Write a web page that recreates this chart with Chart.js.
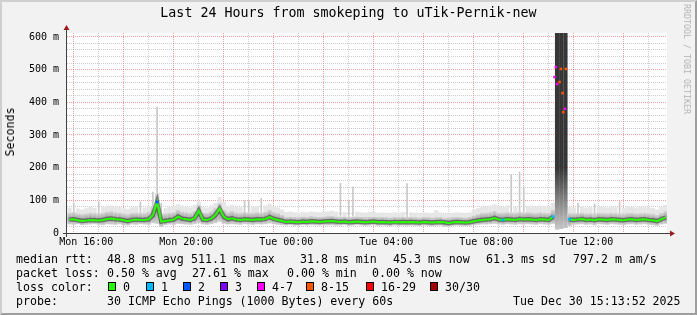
<!DOCTYPE html>
<html>
<head>
<meta charset="utf-8">
<script src="https://cdn.jsdelivr.net/npm/chart.js@4.4.1/dist/chart.umd.min.js"></script>
<style>
body { margin: 0; background: #fff; }
#wrap { position: relative; width: 697px; height: 315px; background: #f2f2f2; overflow: hidden;
        font-family: 'DejaVu Sans Mono', monospace; color: #000; }
#frame { position: absolute; left: 0; top: 0; width: 697px; height: 315px; box-sizing: border-box;
         border: 2px solid; border-color: #cfcfcf #9e9e9e #9e9e9e #cfcfcf; pointer-events: none; }
#chart { position: absolute; left: 0; top: 0; }
.t { position: absolute; white-space: pre; font-size: 11.6px; line-height: 14px; }
.box { position: absolute; width: 6px; height: 7px; border: 1px solid #000; top: 282px; }
#title { position: absolute; left: 0; top: 5px; width: 697px; text-align: center; font-size: 13.3px; line-height: 16px; }
#ylab { position: absolute; left: 10px; top: 132px; font-size: 11.6px; transform: translate(-50%, -50%) rotate(-90deg); white-space: nowrap; }
#credit { position: absolute; left: 687px; top: 59px; font-size: 8.3px; color: #b4b4b4; transform: translate(-50%, -50%) rotate(90deg); white-space: nowrap; }
</style>
</head>
<body>
<div id="wrap">
  <canvas id="chart" width="697" height="315"></canvas>
  <div id="title">Last 24 Hours from smokeping to uTik-Pernik-new</div>
  <div id="ylab">Seconds</div>
  <div id="credit">RRDTOOL / TOBI OETIKER</div>

  <div class="t" style="left:16px;top:252px">median rtt:</div>
  <div class="t" style="left:107px;top:252px">48.8 ms avg</div>
  <div class="t" style="left:191px;top:252px">511.1 ms max</div>
  <div class="t" style="left:300px;top:252px">31.8 ms min</div>
  <div class="t" style="left:393px;top:252px">45.3 ms now</div>
  <div class="t" style="left:486px;top:252px">61.3 ms sd</div>
  <div class="t" style="left:573px;top:252px">797.2 m am/s</div>

  <div class="t" style="left:16px;top:266px">packet loss:</div>
  <div class="t" style="left:107px;top:266px">0.50 % avg</div>
  <div class="t" style="left:192px;top:266px">27.61 % max</div>
  <div class="t" style="left:287px;top:266px">0.00 % min</div>
  <div class="t" style="left:372px;top:266px">0.00 % now</div>

  <div class="t" style="left:16px;top:280px">loss color:</div>
  <div id="lossLegend"></div>

  <div class="t" style="left:16px;top:294px">probe:</div>
  <div class="t" style="left:107px;top:294px">30 ICMP Echo Pings (1000 Bytes) every 60s</div>
  <div class="t" style="left:513px;top:294px">Tue Dec 30 15:13:52 2025</div>
  <div id="frame"></div>
</div>
<script>
// 10 minute slots, Mon 15:15 -> Tue 15:15 (values in ms)
const median = [
  41,42,39,37,38,40,39,38,40,43,44,42,41,39,36,40,41,40,40,42,
  55,95,35,37,39,41,50,44,42,40,45,68,41,40,44,55,74,50,42,45,
  41,40,42,41,40,42,41,43,49,43,40,37,34,35,34,33,35,34,36,35,
  34,35,36,37,35,34,35,33,34,35,34,33,34,35,33,34,33,32,34,33,
  34,33,34,33,32,34,33,32,33,34,33,30,33,34,33,32,33,36,38,40,
  41,42,46,41,40,42,41,40,43,41,42,41,40,42,41,40,50,null,null,null,
  42,40,41,43,40,41,39,42,41,40,42,41,40,39,41,42,40,41,42,40,39,36,42,47
];
const loss = [
  0,0,0,0,0,0,0,0,0,0,0,0,0,0,0,0,0,0,0,0,
  0,2,0,0,0,0,0,0,0,0,0,0,0,0,0,0,0,0,0,0,
  0,0,0,0,0,0,0,0,0,0,0,0,0,0,0,0,0,0,0,0,
  0,0,0,0,0,0,0,0,0,0,0,0,0,0,0,0,0,0,0,0,
  0,0,0,0,0,0,0,0,0,0,0,0,0,0,0,0,0,0,0,0,
  0,0,0,0,1,0,0,0,0,0,0,0,0,0,0,0,1,6,10,8,
  1,0,0,0,0,0,0,0,0,0,0,0,0,0,0,0,0,0,0,0,0,0,0,0
];
const smokeLo = [
  26,25,27,24,25,26,27,25,24,27,26,25,27,24,23,26,25,27,26,25,
  30,28,18,24,26,25,28,27,26,25,27,30,26,25,27,30,34,28,26,27,
  26,25,27,26,25,27,26,27,29,27,25,24,23,24,22,23,24,23,24,23,
  23,24,23,24,22,23,24,22,23,24,23,22,23,24,22,23,22,21,23,22,
  23,22,23,22,21,23,22,21,22,23,19,20,22,23,22,21,22,24,25,26,
  26,27,28,26,25,27,26,25,27,26,27,26,25,27,26,25,28,10,12,15,
  20,25,26,27,25,26,24,27,26,25,27,26,25,24,26,27,25,26,27,25,24,22,26,28
];
const smokeHi = [
  62,64,60,58,60,63,61,60,62,66,67,64,63,60,58,62,63,62,61,65,
  80,120,58,60,62,64,72,66,64,62,68,88,63,62,67,78,92,72,64,68,
  63,62,65,63,62,64,63,66,72,65,61,56,50,51,50,49,51,50,52,51,
  50,51,52,53,51,50,51,49,50,51,50,49,50,51,49,50,49,48,50,49,
  50,49,50,49,48,50,49,48,49,50,46,48,49,50,49,48,50,54,58,62,
  63,64,68,63,62,64,63,62,65,63,64,63,62,64,63,62,72,700,700,700,
  62,60,61,63,60,61,59,62,61,60,62,61,60,59,61,62,60,61,62,60,59,56,62,68
];
const smokePeak = [
  78,92,75,72,76,80,77,96,79,82,84,81,80,76,74,79,81,96,78,82,
  126,386,92,76,80,82,88,84,80,78,86,96,80,78,84,92,110,96,82,86,
  80,79,100,100,80,82,107,84,90,82,78,72,64,66,63,62,65,63,66,64,
  63,64,66,68,65,153,64,100,142,65,63,62,64,65,62,63,62,61,63,62,
  64,152,63,62,61,63,62,61,70,63,58,60,62,63,62,61,63,70,76,80,
  82,84,88,82,80,84,180,82,188,142,84,82,80,83,82,80,92,null,null,null,
  80,78,92,82,78,80,90,81,80,78,82,80,96,77,82,80,78,80,82,78,77,72,80,86
];
// outage detail (Tue morning)
const outTimes = ['10:44','10:47','10:50','10:56','10:59','11:03','11:05','11:09','11:11'];
const outMedian = [477, 508, 456, 462, 502, 428, 370, 380, 502];
const outLoss = [5, 6, 5, 9, 10, 9, 12, 6, 9];

const hourTicks = [16,17,18,19,20,21,22,23,24,25,26,27,28,29,30,31,32,33,34,35,36,37,38,39];
const msTicks = [0,20,40,60,80,100,120,140,160,180,200,220,240,260,280,300,320,340,360,380,400,420,440,460,480,500,520,540,560,580,600];
const lossNames = ['0','1','2','3','4-7','8-15','16-29','30/30'];
const lossColors = ['#26ff00','#00b8ff','#0059ff','#7e00ff','#ff00ff','#ff5500','#ff0000','#a10000'];

const GRID = 'rgba(143,143,143,0.46)';
const MGRID = 'rgba(222,48,48,0.46)';

function lossColor(l) {
  if (l <= 3) return lossColors[l];
  if (l <= 7) return lossColors[4];
  if (l <= 15) return lossColors[5];
  if (l <= 29) return lossColors[6];
  return lossColors[7];
}

// legend boxes
const boxLeft = [108,146,183,220,257,306,366,430];
const leg = document.getElementById('lossLegend');
lossNames.forEach((n, i) => {
  const b = document.createElement('div');
  b.className = 'box';
  b.style.left = boxLeft[i] + 'px';
  b.style.background = lossColors[i];
  leg.appendChild(b);
  const t = document.createElement('div');
  t.className = 't';
  t.style.left = (boxLeft[i] + 15) + 'px';
  t.style.top = '280px';
  t.textContent = n;
  leg.appendChild(t);
});

const slotX = median.map((_, i) => 15.25 + (i + 0.5) / 6);
const toHour = s => 24 + parseInt(s.slice(0, 2)) + parseInt(s.slice(3)) / 60;

function bandFill(ctx) {
  const i = ctx.dataIndex;
  const c = ctx.chart, y = c.scales.y;
  const plain = loss[i] < 4 ? '#b4b4b4' : '#444';
  if (!y) return plain;
  if (loss[i] < 4) {
    // lighter at the band edges, darker near the median
    const y0 = y.getPixelForValue(smokeLo[i]), y1 = y.getPixelForValue(smokeHi[i]);
    if (!isFinite(y0) || !isFinite(y1)) return plain;
    const g = c.ctx.createLinearGradient(0, y0, 0, y1);
    g.addColorStop(0, '#d4d4d4');
    g.addColorStop(0.45, '#9a9a9a');
    g.addColorStop(1, '#d8d8d8');
    return g;
  }
  const y0 = y.getPixelForValue(0), y1 = y.getPixelForValue(200);
  if (!isFinite(y0) || !isFinite(y1)) return plain;
  const g = c.ctx.createLinearGradient(0, y0, 0, y1);
  g.addColorStop(0, '#d0d0d0');
  g.addColorStop(1, '#363636');
  return g;
}

// faint haze just above the band, thin light spikes for the large outliers
const hazeData = [], spikeData = [];
slotX.forEach((t, i) => {
  if (smokePeak[i] == null) return;
  const d = { x: t, y: [smokeHi[i], smokePeak[i]] };
  (smokePeak[i] - smokeHi[i] >= 25 ? spikeData : hazeData).push(d);
});

const rrdFrame = {
  id: 'rrdFrame',
  beforeDraw(c) {
    const a = c.chartArea, x = c.ctx;
    x.save();
    x.fillStyle = '#fff';
    x.fillRect(a.left, a.top, a.right - a.left, a.bottom - a.top);
    x.restore();
  },
  afterDraw(c) {
    const a = c.chartArea, x = c.ctx;
    x.save();
    x.strokeStyle = '#404040';
    x.lineWidth = 1;
    x.beginPath();
    x.moveTo(a.left - 0.5, a.bottom + 4);
    x.lineTo(a.left - 0.5, a.top - 3);
    x.moveTo(a.left - 4, a.bottom + 0.5);
    x.lineTo(a.right + 4, a.bottom + 0.5);
    x.stroke();
    x.fillStyle = '#9a1c1c';
    x.beginPath();
    x.moveTo(a.left - 3.5, a.top - 3);
    x.lineTo(a.left + 2.5, a.top - 3);
    x.lineTo(a.left - 0.5, a.top - 8);
    x.closePath();
    x.fill();
    x.beginPath();
    x.moveTo(a.right + 3, a.bottom - 2.5);
    x.lineTo(a.right + 3, a.bottom + 3.5);
    x.lineTo(a.right + 8, a.bottom + 0.5);
    x.closePath();
    x.fill();
    x.restore();
  }
};

const chart = new Chart(document.getElementById('chart'), {
  type: 'bar',
  data: {
    datasets: [
      {
        type: 'bar', label: 'haze',
        data: hazeData,
        backgroundColor: '#e6e6e6', borderWidth: 0, grouped: false,
        barPercentage: 1.03, categoryPercentage: 1, order: 6
      },
      {
        type: 'bar', label: 'spikes',
        data: spikeData,
        backgroundColor: '#c9c9c9', borderWidth: 0, grouped: false,
        barPercentage: 0.4, categoryPercentage: 1, order: 5
      },
      {
        type: 'bar', label: 'smoke',
        data: slotX.map((t, i) => ({ x: t, y: [smokeLo[i], smokeHi[i]] })),
        backgroundColor: bandFill, borderWidth: 0, grouped: false,
        barPercentage: 1.03, categoryPercentage: 1, order: 4
      },
      {
        type: 'line', label: 'core',
        data: slotX.map((t, i) => ({ x: t, y: median[i] })),
        borderColor: 'rgba(40,40,40,0.5)', borderWidth: 4.5, pointRadius: 0,
        spanGaps: false, order: 3
      },
      {
        type: 'line', label: 'median',
        data: slotX.map((t, i) => ({ x: t, y: median[i] })),
        borderColor: lossColors[0], borderWidth: 2, spanGaps: false,
        pointStyle: 'rect',
        pointRadius: c => loss[c.dataIndex] > 0 ? 2 : 0,
        pointBackgroundColor: c => lossColor(loss[c.dataIndex]),
        pointBorderWidth: 0, order: 2
      },
      {
        type: 'line', label: 'outage',
        data: outTimes.map((s, i) => ({ x: toHour(s), y: outMedian[i] })),
        showLine: false, pointStyle: 'rect', pointRadius: 1.8, pointBorderWidth: 0,
        pointBackgroundColor: c => lossColor(outLoss[c.dataIndex]), order: 1
      }
    ]
  },
  options: {
    responsive: false,
    animation: false,
    events: [],
    layout: { padding: { left: 0, right: 30, top: 33, bottom: 0 } },
    plugins: { legend: { display: false }, title: { display: false }, tooltip: { enabled: false } },
    scales: {
      x: {
        type: 'linear', min: 15.23, max: 39.23, offset: false,
        afterBuildTicks: s => { s.ticks = hourTicks.map(v => ({ value: v })); },
        afterFit: s => { s.height = 82; },
        grid: { drawTicks: false, color: c => (c.tick && c.tick.value % 2 === 0) ? MGRID : GRID },
        border: { display: false, dash: [1, 1] },
        ticks: {
          autoSkip: false, maxRotation: 0, padding: 3, color: '#000',
          font: { family: 'DejaVu Sans Mono', size: 10 },
          callback: v => {
            if (v % 4 !== 0) return '';
            const day = v < 24 ? 'Mon' : 'Tue';
            const h = v % 24;
            return day + ' ' + (h < 10 ? '0' + h : h) + ':00';
          }
        }
      },
      y: {
        type: 'linear', min: 0, max: 612,
        afterBuildTicks: s => { s.ticks = msTicks.map(v => ({ value: v })); },
        afterFit: s => { s.width = 67; },
        grid: { drawTicks: false, color: c => (c.tick && c.tick.value % 100 === 0) ? MGRID : GRID },
        border: { display: false, dash: [1, 1] },
        ticks: {
          autoSkip: false, padding: 8, color: '#000',
          font: { family: 'DejaVu Sans Mono', size: 10 },
          callback: v => v % 100 !== 0 ? '' : (v === 0 ? '0' : v + ' m')
        }
      }
    }
  },
  plugins: [rrdFrame]
});
// re-resolve the gradients now that the scales have their final size
chart.update();
</script>
</body>
</html>
